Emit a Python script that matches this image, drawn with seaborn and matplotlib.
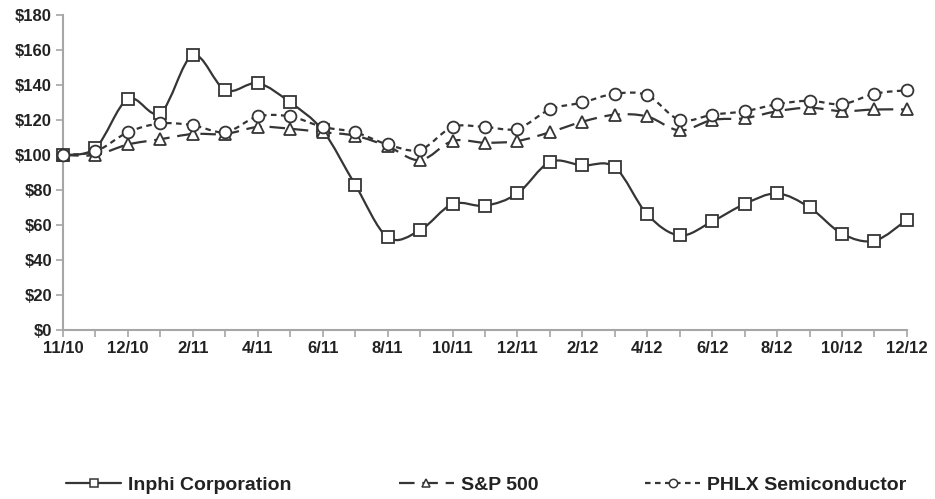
import numpy as np
import seaborn as sns
import matplotlib.pyplot as plt
from matplotlib.path import Path
from matplotlib.patches import PathPatch
from matplotlib.lines import Line2D

# month labels (every other point gets a label)
dates = ["11/10", "", "12/10", "", "2/11", "", "4/11", "", "6/11", "", "8/11", "",
         "10/11", "", "12/11", "", "2/12", "", "4/12", "", "6/12", "", "8/12", "",
         "10/12", "", "12/12"]

inphi = [100, 104, 132, 124, 157, 137, 141, 130, 114, 83, 53, 57, 72, 71, 78, 96,
         94, 93, 66, 54, 62, 72, 78, 70, 55, 51, 63]
sp500 = [100, 100, 106, 109, 112, 112, 116, 115, 113, 111, 105, 97, 108, 107, 108, 113,
         119, 123, 122, 114, 120, 121, 125, 127, 125, 126, 126]
phlx = [100, 102, 113, 118, 117, 113, 122, 122, 116, 113, 106, 103, 116, 116, 115, 126,
        130, 135, 134, 120, 123, 125, 129, 131, 129, 135, 137]

labels = ["Inphi Corporation", "S&P 500", "PHLX Semiconductor"]
series = [inphi, sp500, phlx]
markers = ["s", "^", "o"]
styles = ["-", (0, (7, 3.5)), (0, (2.5, 2))]


def smooth_path(xs, ys):
    # excel-style smoothed line: cubic bezier through the points
    pts = np.column_stack([xs, ys]).astype(float)
    pad = np.vstack([pts[0], pts, pts[-1]])
    verts = [pts[0]]
    codes = [Path.MOVETO]
    for i in range(len(pts) - 1):
        p0, p1, p2, p3 = pad[i], pad[i + 1], pad[i + 2], pad[i + 3]
        verts += [p1 + (p2 - p0) / 6, p2 - (p3 - p1) / 6, p2]
        codes += [Path.CURVE4] * 3
    return Path(verts, codes)


sns.set_style("white")
plt.rcParams['font.family'] = ['Liberation Sans', 'DejaVu Sans']
plt.rcParams['font.weight'] = 'bold'

fig = plt.figure(figsize=(9.35, 4.99), dpi=100)
ax = fig.add_axes([0.0674, 0.3387, 0.9026, 0.6313])

x = np.arange(len(dates))
line_col = "#353535"

handles = []
for vals, m, ls, lab in zip(series, markers, styles, labels):
    ax.add_patch(PathPatch(smooth_path(x, vals), fill=False, edgecolor=line_col,
                           linewidth=1.6, linestyle=ls, zorder=2, clip_on=False))
    sns.lineplot(x=x, y=vals, marker=m, linestyle="none", color=line_col,
                 markerfacecolor="white", markeredgecolor=line_col, markeredgewidth=1.3,
                 markersize=8.5 if m != "^" else 9, legend=False, ax=ax,
                 zorder=3, clip_on=False)
    handles.append(Line2D([], [], color=line_col, linestyle=ls, linewidth=1.6, marker=m,
                          markersize=6, markerfacecolor="white", markeredgecolor=line_col,
                          markeredgewidth=1.1))

ax.set_xlim(0, len(dates) - 1)
ax.set_ylim(0, 180)
ax.set_xticks(x)
ax.set_xticklabels(dates)
ax.set_yticks(range(0, 181, 20))
ax.set_yticklabels(["$" + str(v) for v in range(0, 181, 20)])

for s in ["top", "right"]:
    ax.spines[s].set_visible(False)
for s in ["left", "bottom"]:
    ax.spines[s].set_color("#a6a6a6")
    ax.spines[s].set_linewidth(1.5)

ax.tick_params(axis="both", which="both", direction="out", length=5, width=1.2,
               color="#a6a6a6", labelsize=12, labelcolor="#222222", pad=3,
               bottom=True, left=True)
ax.set_xlabel("")
ax.set_ylabel("")

ax.legend(handles, labels, loc="center", bbox_to_anchor=(0.52, 0.028),
          bbox_transform=fig.transFigure, ncol=3, frameon=False, fontsize=14,
          handlelength=2.83, handletextpad=0.36, columnspacing=5.5,
          labelcolor="#222222")

plt.savefig("out.png", dpi=100)
